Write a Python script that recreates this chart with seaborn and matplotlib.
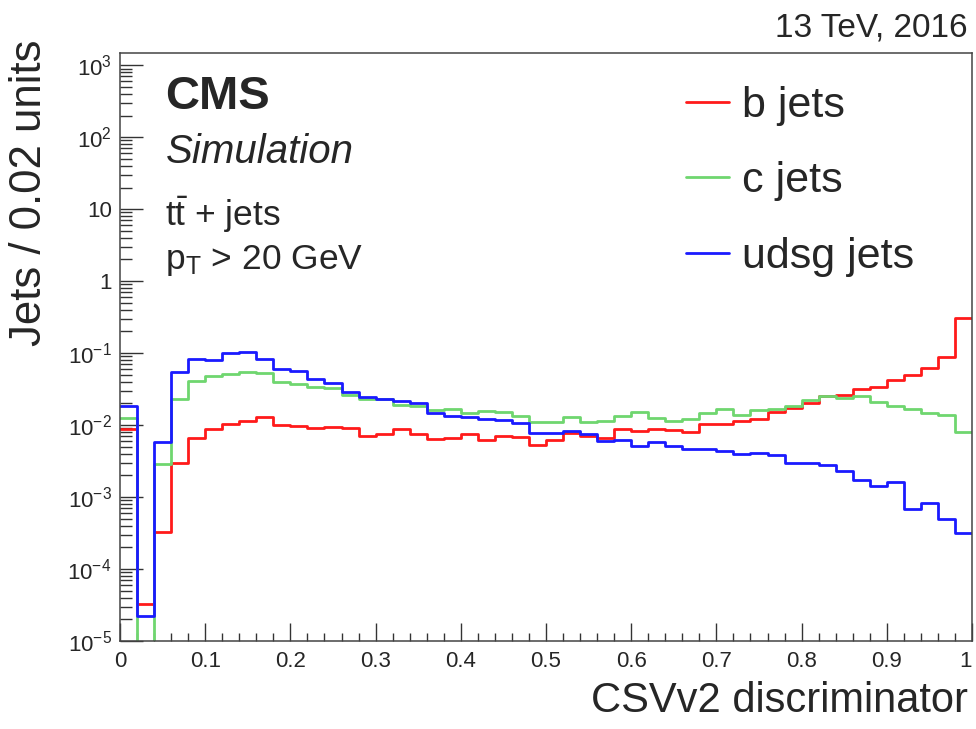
import numpy as np
import pandas as pd
import matplotlib
matplotlib.use("Agg")
import matplotlib.pyplot as plt
import seaborn as sns
from matplotlib.ticker import LogLocator, MultipleLocator, NullFormatter

# ---- DATA (jets per 0.02 bin) ----
bin_width = 0.02
n_bins = 50

b_jets = [0.0087, 3.3e-5, 3.3e-4, 0.0030, 0.0066, 0.0087, 0.0104, 0.0113, 0.0130, 0.0101,
          0.0097, 0.0091, 0.0094, 0.0091, 0.0070, 0.0074, 0.0087, 0.0076, 0.0064, 0.0066,
          0.0074, 0.0063, 0.0071, 0.0068, 0.0053, 0.0062, 0.0077, 0.0070, 0.0066, 0.0087,
          0.0082, 0.0087, 0.0085, 0.0079, 0.0102, 0.0105, 0.0113, 0.0122, 0.0152, 0.0174,
          0.0205, 0.0251, 0.0266, 0.0318, 0.0340, 0.0428, 0.0500, 0.0630, 0.0890, 0.310]

c_jets = [0.0126, 0.0, 0.0029, 0.0230, 0.0410, 0.0480, 0.0520, 0.0550, 0.0530, 0.0400,
          0.0370, 0.0340, 0.0330, 0.0265, 0.0227, 0.0230, 0.0193, 0.0187, 0.0161, 0.0165,
          0.0148, 0.0159, 0.0151, 0.0133, 0.0110, 0.0110, 0.0130, 0.0111, 0.0115, 0.0133,
          0.0153, 0.0126, 0.0113, 0.0122, 0.0148, 0.0165, 0.0136, 0.0161, 0.0170, 0.0187,
          0.0225, 0.0251, 0.0240, 0.0251, 0.0208, 0.0187, 0.0169, 0.0145, 0.0136, 0.0079]

udsg_jets = [0.0187, 2.2e-5, 0.0059, 0.0540, 0.0830, 0.0800, 0.0990, 0.1050, 0.0830, 0.0600,
             0.0560, 0.0440, 0.0380, 0.0290, 0.0246, 0.0230, 0.0214, 0.0204, 0.0145, 0.0135,
             0.0128, 0.0122, 0.0117, 0.0107, 0.0078, 0.0078, 0.0082, 0.0074, 0.0060, 0.0062,
             0.0052, 0.0058, 0.0051, 0.0046, 0.0047, 0.0044, 0.0040, 0.0041, 0.0038, 0.0030,
             0.0030, 0.0028, 0.0023, 0.00175, 0.00141, 0.0016, 0.00068, 0.00083, 0.00050, 0.00032]

flavours = ["b jets", "c jets", "udsg jets"]
colours = ["#ff1a1a", "#6fd66f", "#1a1aff"]

xtick_values = [0, 0.1, 0.2, 0.3, 0.4, 0.5, 0.6, 0.7, 0.8, 0.9, 1]
xtick_labels = ["0", "0.1", "0.2", "0.3", "0.4", "0.5", "0.6", "0.7", "0.8", "0.9", "1"]
ytick_values = [1e-5, 1e-4, 1e-3, 1e-2, 1e-1, 1, 10, 1e2, 1e3]
ytick_labels = ["$10^{-5}$", "$10^{-4}$", "$10^{-3}$", "$10^{-2}$", "$10^{-1}$",
                "1", "10", "$10^{2}$", "$10^{3}$"]

# long table: one row per bin and flavour
centers = (np.arange(n_bins) + 0.5) * bin_width
df = pd.concat([pd.DataFrame({"csv": centers, "jets": vals, "flavour": name})
                for name, vals in zip(flavours, [b_jets, c_jets, udsg_jets])])

# ---- STYLE ----
sns.set_style("ticks")
plt.rcParams['font.family'] = ['Liberation Sans', 'DejaVu Sans']
plt.rcParams['mathtext.fontset'] = 'custom'
plt.rcParams['mathtext.rm'] = 'Liberation Sans'
plt.rcParams['mathtext.it'] = 'Liberation Sans:italic'
plt.rcParams['mathtext.bf'] = 'Liberation Sans:bold'

W, H = 976, 729
fig = plt.figure(figsize=(W / 100, H / 100), dpi=100)
ax = fig.add_axes([120 / W, 88 / H, 852 / W, 588 / H])

for name, col in zip(flavours, colours):
    sns.histplot(data=df[df["flavour"] == name], x="csv", weights="jets",
                 bins=n_bins, binrange=(0, 1),
                 element="step", fill=False, color=col, linewidth=2, label=name, ax=ax)

ax.set_yscale("log")
ax.set_xlim(0, 1)
ax.set_ylim(1e-5, 10 ** 3.17)

ax.set_xticks(xtick_values)
ax.set_xticklabels(xtick_labels)
ax.get_xticklabels()[-1].set_ha("right")
ax.xaxis.set_minor_locator(MultipleLocator(bin_width))
ax.set_yticks(ytick_values)
ax.set_yticklabels(ytick_labels)
ax.yaxis.set_minor_locator(LogLocator(base=10, subs=np.arange(2, 10), numticks=30))
ax.yaxis.set_minor_formatter(NullFormatter())

ax.tick_params(which="both", direction="in", top=False, right=False, width=1, color="#333333")
ax.tick_params(axis="y", which="major", length=16.5, labelsize=16, pad=6)
ax.tick_params(axis="y", which="minor", length=8.5)
ax.tick_params(axis="x", which="major", length=13, labelsize=16, pad=7)
ax.tick_params(axis="x", which="minor", length=6)
for sp in ax.spines.values():
    sp.set_linewidth(1.1)
    sp.set_color("#444444")

ax.set_xlabel("CSVv2 discriminator", fontsize=30, loc="right")
ax.xaxis.set_label_coords(848 / 852, -40 / 588)
ax.set_ylabel("Jets / 0.02 units", fontsize=31.5, loc="top")
ax.yaxis.set_label_coords(-70 / 852, 1 + 13 / 588)

# ---- ANNOTATIONS ----
fig.text(165 / W, 1 - 97 / H, "CMS", fontsize=34, fontweight="bold", va="center")
fig.text(166 / W, 1 - 152 / H, "Simulation", fontsize=29, style="italic", va="center")
fig.text(165 / W, 1 - 215 / H, r"$\mathrm{t\bar{t}}$ + jets", fontsize=25.5, va="center")
fig.text(165 / W, 1 - 260 / H, r"$\mathrm{p_{T}}$ > 20 GeV", fontsize=25.5, va="center")
fig.text(968 / W, 1 - 28 / H, "13 TeV, 2016", fontsize=24, ha="right", va="center")

ax.legend(loc="upper left", bbox_to_anchor=(686 / W, 1 - 86 / H), bbox_transform=fig.transFigure,
          frameon=False, fontsize=31, handlelength=1.0, handletextpad=0.3,
          labelspacing=0.82, borderpad=0, borderaxespad=0)

plt.savefig("out.png", dpi=100)
